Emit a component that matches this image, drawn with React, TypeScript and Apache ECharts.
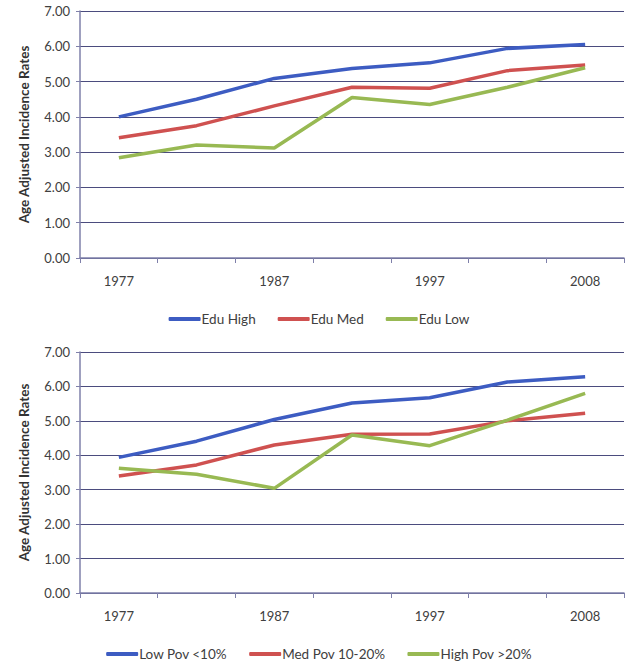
import React, { useEffect, useRef } from "react";
import * as echarts from "echarts";

const years = ["1977", "1982", "1987", "1992", "1997", "2002", "2008"];
const yTicks = [0, 1, 2, 3, 4, 5, 6, 7];

const eduHigh = [4.0, 4.5, 5.09, 5.37, 5.53, 5.94, 6.05];
const eduMed = [3.41, 3.75, 4.31, 4.84, 4.81, 5.31, 5.47];
const eduLow = [2.84, 3.2, 3.12, 4.55, 4.35, 4.84, 5.39];

const lowPov = [3.94, 4.41, 5.04, 5.52, 5.67, 6.13, 6.28];
const medPov = [3.4, 3.72, 4.3, 4.61, 4.62, 5.0, 5.22];
const highPov = [3.62, 3.45, 3.04, 4.59, 4.28, 5.02, 5.8];

const topNames = ["Edu High", "Edu Med", "Edu Low"];
const bottomNames = ["Low Pov <10%", "Med Pov 10-20%", "High Pov >20%"];

const colors = ["#3d5cc2", "#cf5150", "#98b953"];
const FONT = "Lato, 'Open Sans', sans-serif";

export default function App() {
  const ref = useRef<HTMLDivElement>(null);
  useEffect(() => {
    document.body.style.margin = "0";
    const chart = echarts.init(ref.current!, undefined, { renderer: "svg" });
    const gridLineColor = "#4b4c7e";
    const mkX = (gi: number) => ({
      type: "category",
      gridIndex: gi,
      data: years,
      boundaryGap: true,
      axisLine: { lineStyle: { color: "#7f80aa", width: 1.5 } },
      axisTick: { show: true, alignWithLabel: false, interval: 0, length: 5, lineStyle: { color: "#7f80aa" } },
      axisLabel: { interval: 1, color: "#404040", fontSize: 13, fontFamily: FONT, margin: 16 },
      splitLine: { show: false },
    });
    const mkY = (gi: number) => ({
      type: "value",
      gridIndex: gi,
      min: yTicks[0],
      max: yTicks[yTicks.length - 1],
      interval: 1,
      name: "Age Adjusted Incidence Rates",
      nameLocation: "middle",
      nameGap: 49,
      nameTextStyle: { color: "#333", fontSize: 13.5, fontWeight: "bold", fontFamily: FONT },
      axisLine: { show: true, lineStyle: { color: "#7f80aa", width: 1.5 } },
      axisTick: { show: true, length: 4, inside: false, lineStyle: { color: "#7f80aa" } },
      axisLabel: {
        color: "#404040",
        fontSize: 13,
        fontFamily: FONT,
        margin: 10,
        formatter: (v: number) => v.toFixed(2),
      },
      splitLine: { show: true, lineStyle: { color: gridLineColor, width: 1.2 } },
    });
    const mkSeries = (name: string, data: number[], i: number, gi: number) => ({
      name,
      type: "line",
      xAxisIndex: gi,
      yAxisIndex: gi,
      data,
      showSymbol: false,
      symbol: "none",
      lineStyle: { color: colors[i], width: 3.5 },
      itemStyle: { color: colors[i] },
    });
    const legendBase = {
      icon: "roundRect",
      itemWidth: 32,
      itemHeight: 4,
      itemGap: 22,
      textStyle: { color: "#404040", fontSize: 13.5, fontFamily: FONT, padding: [0, 0, 0, -4] },
    };
    chart.setOption({
      animation: false,
      backgroundColor: "#ffffff",
      grid: [
        { left: 80, right: 14, top: 11, height: 247 },
        { left: 80, right: 14, top: 352, height: 241 },
      ],
      xAxis: [mkX(0), mkX(1)],
      yAxis: [mkY(0), mkY(1)],
      legend: [
        { ...legendBase, data: topNames, top: 307, left: "center" },
        { ...legendBase, data: bottomNames, top: 642, left: "center" },
      ],
      series: [
        mkSeries(topNames[0], eduHigh, 0, 0),
        mkSeries(topNames[1], eduMed, 1, 0),
        mkSeries(topNames[2], eduLow, 2, 0),
        mkSeries(bottomNames[0], lowPov, 0, 1),
        mkSeries(bottomNames[1], medPov, 1, 1),
        mkSeries(bottomNames[2], highPov, 2, 1),
      ],
    });
    return () => chart.dispose();
  }, []);
  return <div ref={ref} style={{ width: 638, height: 672 }} />;
}
